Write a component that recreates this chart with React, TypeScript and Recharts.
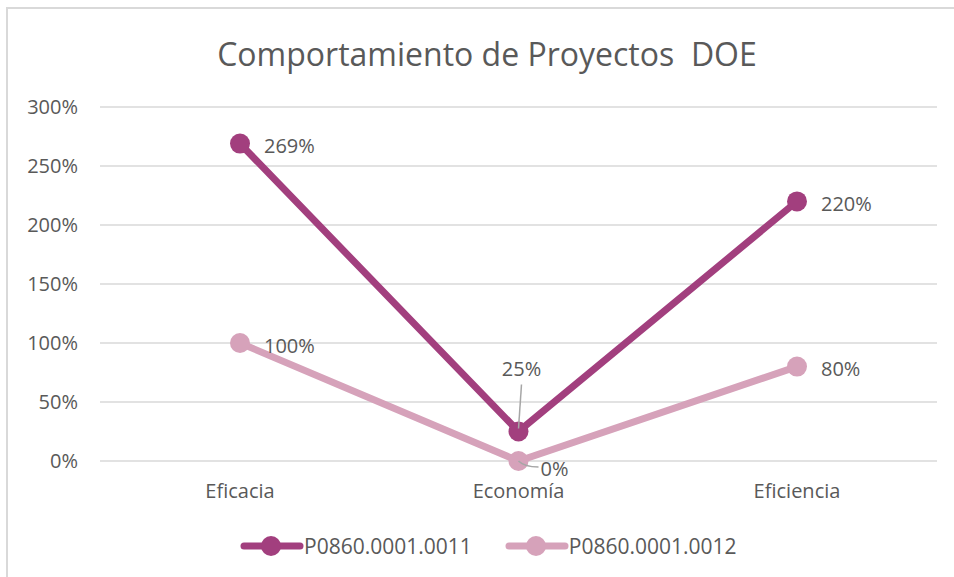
import React from 'react';
import {LineChart, Line, XAxis, YAxis, CartesianGrid} from 'recharts';

const categories = ['Eficacia', 'Economía', 'Eficiencia'];
const serie11 = [2.69, 0.25, 2.2];
const serie12 = [1.0, 0.0, 0.8];
const yTicks = [0, 0.5, 1, 1.5, 2, 2.5, 3];
const seriesNames = ['P0860.0001.0011', 'P0860.0001.0012'];

const colors = ['#A23F7E', '#D6A2BA'];
const textColor = '#595959';
const font = '"Open Sans", sans-serif';

const data = categories.map((name, i) => ({
    name,
    s1: serie11[i],
    s2: serie12[i],
}));

const pct = (v: number) => `${Math.round(v * 100)}%`;

const makeLabel = (seriesIdx: number) => (props: any) => {
    const {x, y, value, index} = props;
    const style = {fontFamily: font, fontSize: 20, fill: textColor};
    if (index === 1 && seriesIdx === 0) {
        return (
            <g>
                <line x1={x + 3} y1={y - 47} x2={x} y2={y - 3} stroke="#A6A6A6" strokeWidth={1.5}/>
                <text x={x + 3} y={y - 63} textAnchor="middle" dominantBaseline="central" style={style}>{pct(value)}</text>
            </g>
        );
    }
    if (index === 1 && seriesIdx === 1) {
        return (
            <g>
                <path d={`M${x},${y} Q${x + 6},${y + 6} ${x + 20},${y + 6}`} fill="none" stroke="#A6A6A6" strokeWidth={1.5}/>
                <text x={x + 22} y={y + 7} textAnchor="start" dominantBaseline="central" style={style}>{pct(value)}</text>
            </g>
        );
    }
    return (
        <text x={x + 24} y={y + 2} textAnchor="start" dominantBaseline="central" style={style}>{pct(value)}</text>
    );
};

const LegendIcon = ({color}: {color: string}) => (
    <svg width={64} height={24}>
        <line x1={4} y1={12} x2={60} y2={12} stroke={color} strokeWidth={7} strokeLinecap="round"/>
        <circle cx={31} cy={12} r={10} fill={color}/>
    </svg>
);

const App: React.FC = () => {
    return (
        <div style={{position: 'absolute', left: 0, top: 0, width: 954, height: 577, background: '#fff', overflow: 'hidden'}}>
            <div style={{position: 'absolute', left: 6, top: 7, width: 960, height: 600, border: '2px solid #D9D9D9', boxSizing: 'border-box'}}/>
            <div style={{
                position: 'absolute', left: 0, top: 32, width: 974, textAlign: 'center',
                fontFamily: font, fontSize: 32, color: textColor, whiteSpace: 'pre'
            }}>
                Comportamiento de Proyectos  DOE
            </div>
            <LineChart width={954} height={577} data={data}
                margin={{top: 107, right: 17, left: 0, bottom: 86}}
                style={{position: 'absolute', left: 0, top: 0}}>
                <CartesianGrid vertical={false} stroke="#D9D9D9" strokeWidth={1.5}/>
                <XAxis dataKey="name" axisLine={false} tickLine={false} tickSize={0} tickMargin={23}
                    padding={{left: 140, right: 140}} height={30}
                    tick={{fill: textColor, fontFamily: font, fontSize: 20}}/>
                <YAxis width={100} domain={[0, 3]} ticks={yTicks} tickFormatter={pct}
                    axisLine={false} tickLine={false} tickSize={0} tickMargin={22}
                    tick={{fill: textColor, fontFamily: font, fontSize: 20}}/>
                <Line dataKey="s1" stroke={colors[0]} strokeWidth={7} isAnimationActive={false}
                    dot={{r: 10, fill: colors[0], stroke: colors[0], strokeWidth: 0}}
                    activeDot={false} label={makeLabel(0)}/>
                <Line dataKey="s2" stroke={colors[1]} strokeWidth={7} isAnimationActive={false}
                    dot={{r: 10, fill: colors[1], stroke: colors[1], strokeWidth: 0}}
                    activeDot={false} label={makeLabel(1)}/>
            </LineChart>
            <div style={{
                position: 'absolute', top: 532, left: 240, display: 'flex', alignItems: 'center',
                fontFamily: font, fontSize: 21, color: textColor
            }}>
                {seriesNames.map((n, i) => (
                    <div key={n} style={{display: 'flex', alignItems: 'center', marginRight: 33}}>
                        <LegendIcon color={colors[i]}/>
                        <span>{n}</span>
                    </div>
                ))}
            </div>
        </div>
    );
};

export default App;
